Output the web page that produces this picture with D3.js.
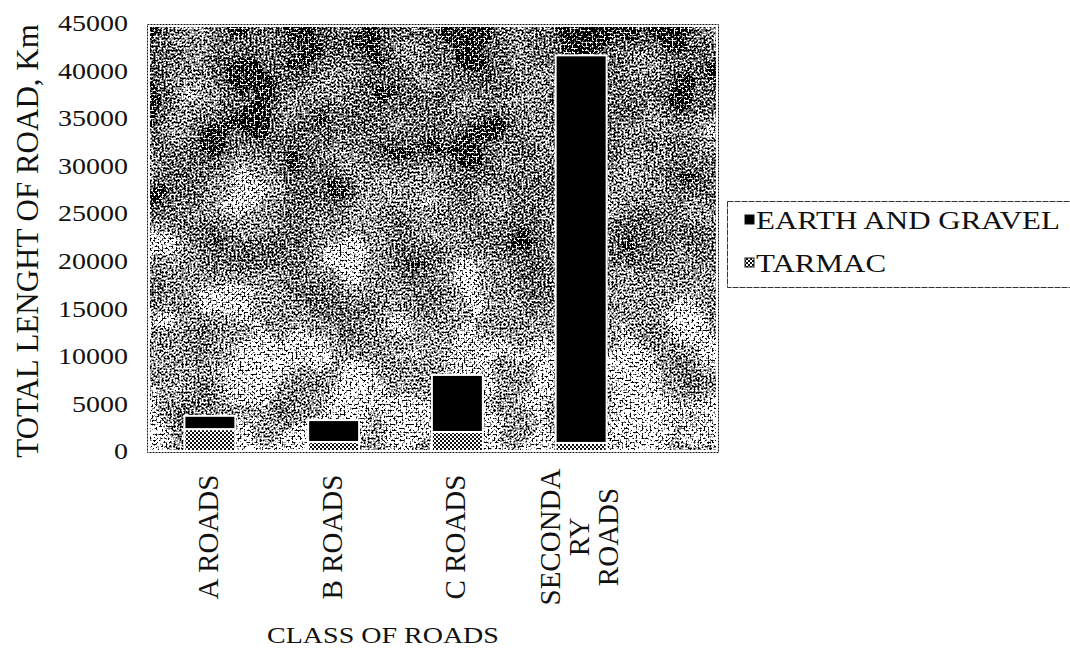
<!DOCTYPE html>
<html lang="en">
<head>
  <meta charset="UTF-8">
  <title>Road length by class</title>
  <script src="https://d3js.org/d3.v7.min.js" charset="utf-8"></script>
  <style>
    body {
      margin: 0;
      background: #ffffff;
    }
    svg text {
      font-family: 'Liberation Serif', 'Times New Roman', serif;
      fill: #111;
    }
  </style>
</head>
<body>
  <div id="wrapper"></div>
  <script>
    // data
    const categories = ["A ROADS", "B ROADS", "C ROADS", "SECONDARY ROADS"]
    const categoryLines = [["A ROADS"], ["B ROADS"], ["C ROADS"], ["SECONDA", "RY", "ROADS"]]
    const tarmac = [2300, 950, 2000, 850]
    const earthGravel = [1400, 2300, 6000, 40750]
    const yTicks = [0, 5000, 10000, 15000, 20000, 25000, 30000, 35000, 40000, 45000]
    const seriesNames = ["EARTH AND GRAVEL", "TARMAC"]

    const drawChart = () => {
      const dimensions = {
        width: 1070,
        height: 651,
        plot: { left: 148, right: 718, top: 25, bottom: 452 }
      }

      const svg = d3.select("#wrapper")
        .append("svg")
          .attr("width", dimensions.width)
          .attr("height", dimensions.height)

      const defs = svg.append("defs")

      // scanned grey speckle of the plot area
      const grain = defs.append("filter")
        .attr("id", "grain")
        .attr("x", 0).attr("y", 0).attr("width", 1).attr("height", 1)
        .attr("color-interpolation-filters", "sRGB")
      const toGrey = "1 0 0 0 0  1 0 0 0 0  1 0 0 0 0  0 0 0 0 1"
      grain.append("feTurbulence")
        .attr("type", "fractalNoise")
        .attr("baseFrequency", 0.5)
        .attr("numOctaves", 2)
        .attr("seed", 11)
        .attr("result", "fine")
      grain.append("feColorMatrix")
        .attr("in", "fine").attr("type", "matrix").attr("values", toGrey)
        .attr("result", "fineGrey")
      grain.append("feTurbulence")
        .attr("type", "fractalNoise")
        .attr("baseFrequency", 0.018)
        .attr("numOctaves", 2)
        .attr("seed", 4)
        .attr("result", "coarse")
      grain.append("feColorMatrix")
        .attr("in", "coarse").attr("type", "matrix").attr("values", toGrey)
        .attr("result", "coarseGrey")
      grain.append("feComposite")
        .attr("in", "fineGrey").attr("in2", "coarseGrey")
        .attr("operator", "arithmetic")
        .attr("k1", 0).attr("k2", 1).attr("k3", 0.22).attr("k4", -0.11)
        .attr("result", "mix1")
      grain.append("feComposite")
        .attr("in", "mix1").attr("in2", "SourceGraphic")
        .attr("operator", "arithmetic")
        .attr("k1", 0).attr("k2", 1).attr("k3", 1).attr("k4", 0)
        .attr("result", "mixed")
      const ct = grain.append("feComponentTransfer").attr("in", "mixed")
      const table = "0 0 0 0 0 0 0 0 0 0 0.45 0.6 1 1 1 1 1 1 1 1"
      ct.append("feFuncR").attr("type", "discrete").attr("tableValues", table)
      ct.append("feFuncG").attr("type", "discrete").attr("tableValues", table)
      ct.append("feFuncB").attr("type", "discrete").attr("tableValues", table)
      ct.append("feFuncA").attr("type", "linear").attr("slope", 0).attr("intercept", 1)

      const bias = defs.append("linearGradient")
        .attr("id", "bias")
        .attr("x1", 0).attr("y1", 0).attr("x2", 0).attr("y2", 1)
      bias.append("stop").attr("offset", "0%").attr("stop-color", "#030303")
      bias.append("stop").attr("offset", "40%").attr("stop-color", "#0c0c0c")
      bias.append("stop").attr("offset", "100%").attr("stop-color", "#1c1c1c")

      // checker hatch used for tarmac
      const checker = defs.append("pattern")
        .attr("id", "checker")
        .attr("patternUnits", "userSpaceOnUse")
        .attr("width", 4).attr("height", 4)
      checker.append("rect").attr("width", 4).attr("height", 4).attr("fill", "#fff")
      checker.append("rect").attr("width", 2).attr("height", 2).attr("fill", "#111")
      checker.append("rect").attr("x", 2).attr("y", 2).attr("width", 2).attr("height", 2).attr("fill", "#111")

      const p = dimensions.plot

      const xScale = d3.scaleBand()
        .domain(categories)
        .range([148, 643])
        .paddingInner(0.588)
        .paddingOuter(0.294)

      const yScale = d3.scaleLinear()
        .domain([0, 45000])
        .range([451, 23])

      // plot background
      svg.append("rect")
        .attr("x", p.left).attr("y", p.top)
        .attr("width", p.right - p.left).attr("height", p.bottom - p.top)
        .attr("fill", "url(#bias)")
        .attr("filter", "url(#grain)")
      svg.append("rect")
        .attr("x", p.left + 1).attr("y", p.top + 1)
        .attr("width", p.right - p.left - 2).attr("height", p.bottom - p.top - 2)
        .attr("fill", "none")
        .attr("stroke", "#fff")
        .attr("stroke-width", 2)
      svg.append("rect")
        .attr("x", p.left - 0.5).attr("y", p.top - 0.5)
        .attr("width", p.right - p.left + 1).attr("height", p.bottom - p.top + 1)
        .attr("fill", "none")
        .attr("stroke", "#111")
        .attr("stroke-width", 1)
        .attr("stroke-dasharray", "2 1")

      // stacked bars
      const stackData = categories.map((c, i) => ({ category: c, tarmac: tarmac[i], earth: earthGravel[i] }))
      const stacked = d3.stack().keys(["tarmac", "earth"])(stackData)
      const fills = { tarmac: "url(#checker)", earth: "#000" }

      svg.append("g")
        .selectAll("g")
        .data(stacked)
        .join("g")
          .attr("fill", d => fills[d.key])
        .selectAll("rect")
        .data(d => d)
        .join("rect")
          .attr("x", d => xScale(d.data.category))
          .attr("y", d => yScale(d[1]))
          .attr("width", xScale.bandwidth())
          .attr("height", d => yScale(d[0]) - yScale(d[1]))
          .attr("stroke", "#fff")
          .attr("stroke-width", 2)

      // y axis labels
      const yAxis = svg.append("g")
        .attr("transform", `translate(${p.left}, 0)`)
        .call(d3.axisLeft(yScale).tickValues(yTicks).tickFormat(d3.format("d")).tickSize(0).tickPadding(20))
      yAxis.select(".domain").remove()
      yAxis.selectAll("text")
        .style("font-size", "28px")
        .attr("transform", "scale(1, 0.86)")

      svg.append("text")
        .attr("transform", "translate(38, 241) rotate(-90)")
        .attr("text-anchor", "middle")
        .style("font-size", "31px")
        .text("TOTAL LENGHT OF ROAD, Km")

      // category labels, rotated
      const lineHeight = 29
      categoryLines.forEach((lines, i) => {
        const cx = xScale(categories[i]) + xScale.bandwidth() / 2
        const label = svg.append("text")
          .attr("transform", `translate(${cx}, 537) rotate(-90)`)
          .attr("text-anchor", "middle")
          .style("font-size", "29px")
        lines.forEach((line, j) => {
          label.append("tspan")
            .attr("x", 0)
            .attr("y", 8 - (lines.length - 1) / 2 * lineHeight + j * lineHeight)
            .text(line)
        })
      })

      svg.append("text")
        .attr("transform", "translate(383, 643) scale(1, 0.86)")
        .attr("text-anchor", "middle")
        .style("font-size", "28px")
        .text("CLASS OF ROADS")

      // legend
      const legend = svg.append("g")
      legend.append("rect")
        .attr("x", 727.5).attr("y", 201.5)
        .attr("width", 400).attr("height", 86)
        .attr("fill", "#fff")
        .attr("stroke", "#333")
        .attr("stroke-width", 1)
        .attr("stroke-dasharray", "6 1")
      const legendFills = ["#000", "url(#checker)"]
      const legendBaselines = [229, 272]
      seriesNames.forEach((name, i) => {
        legend.append("rect")
          .attr("x", 745).attr("y", legendBaselines[i] - 14)
          .attr("width", 9).attr("height", 9)
          .attr("fill", legendFills[i])
          .attr("stroke", "#111")
          .attr("stroke-width", 1)
        legend.append("text")
          .attr("transform", `translate(756, ${legendBaselines[i]}) scale(1, 0.83)`)
          .style("font-size", "31px")
          .text(name)
      })
    }
    drawChart()
  </script>
</body>
</html>
